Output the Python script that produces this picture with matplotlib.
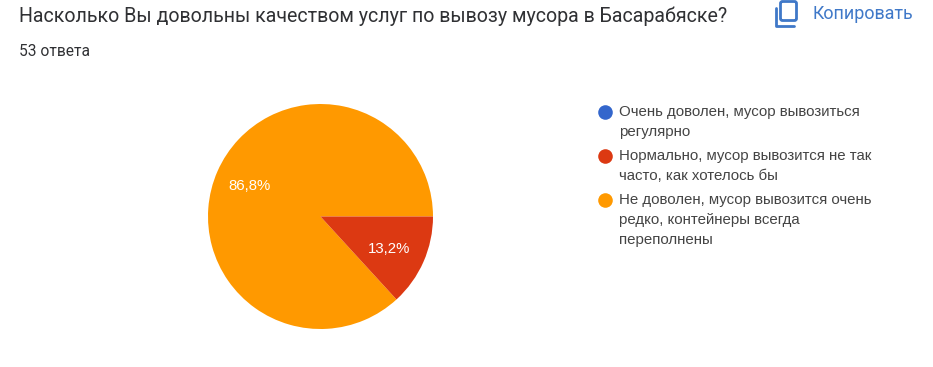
import matplotlib
matplotlib.use('Agg')
import matplotlib.pyplot as plt
from matplotlib.patches import FancyBboxPatch

plt.rcParams['font.family'] = ['Roboto', 'DejaVu Sans']

# данные
title = 'Насколько Вы довольны качеством услуг по вывозу мусора в Басарабяске?'
subtitle = '53 ответа'
copy_label = 'Копировать'
labels = ['Очень доволен, мусор вывозиться\nрегулярно',
          'Нормально, мусор вывозится не так\nчасто, как хотелось бы',
          'Не доволен, мусор вывозится очень\nредко, контейнеры всегда\nпереполнены']
values = [0, 13.2, 86.8]
colors = ['#3366cc', '#dc3912', '#ff9900']
pct_labels = ['', '13,2%', '86,8%']
legend_y = [112, 156, 200]

W, H = 933, 367
blue = '#3f78c8'
fig = plt.figure(figsize=(W/100, H/100), dpi=100)
fig.patch.set_facecolor('white')

# пирог
ax = fig.add_axes([(320.5-112.5)/W, 1-329/H, 225/W, 225/H])
ax.pie(values[::-1][:2], colors=[colors[2], colors[1]], startangle=0, counterclock=True, radius=1)
ax.set_xlim(-1, 1)
ax.set_ylim(-1, 1)
ax.text(-0.63, 0.27, pct_labels[2], color='white', fontsize=10.8, ha='center', va='center', family='Liberation Sans')
ax.text(0.61, -0.29, pct_labels[1], color='white', fontsize=10.8, ha='center', va='center', family='Liberation Sans')

# текст
fig.text(19/W, 1-16/H, title, fontsize=14.1, color='#303134', va='center')
fig.text(19/W, 1-52/H, subtitle, fontsize=11.2, color='#303134', va='center')
fig.text(813/W, 1-14/H, copy_label, fontsize=12.9, color=blue, va='center')

# легенда
bg = fig.add_axes([0, 0, 1, 1])
bg.set_xlim(0, W)
bg.set_ylim(H, 0)
bg.axis('off')
bg.patch.set_alpha(0)
for lab, col, y in zip(labels, colors, legend_y):
    bg.plot(605, y, 'o', color=col, ms=10.5, mec='none')
    bg.text(619, y - 7, lab, fontsize=10.8, color='#444444', va='top', linespacing=1.53,
            family='Liberation Sans')

# иконка копирования
bg.add_patch(FancyBboxPatch((780.5, 1.5), 16, 19, boxstyle='round,pad=0,rounding_size=2',
                            fill=False, ec=blue, lw=2))
bg.plot([775.5, 775.5, 794], [8, 26, 26], color=blue, lw=2, solid_capstyle='round')

fig.savefig('out.png', dpi=100)
